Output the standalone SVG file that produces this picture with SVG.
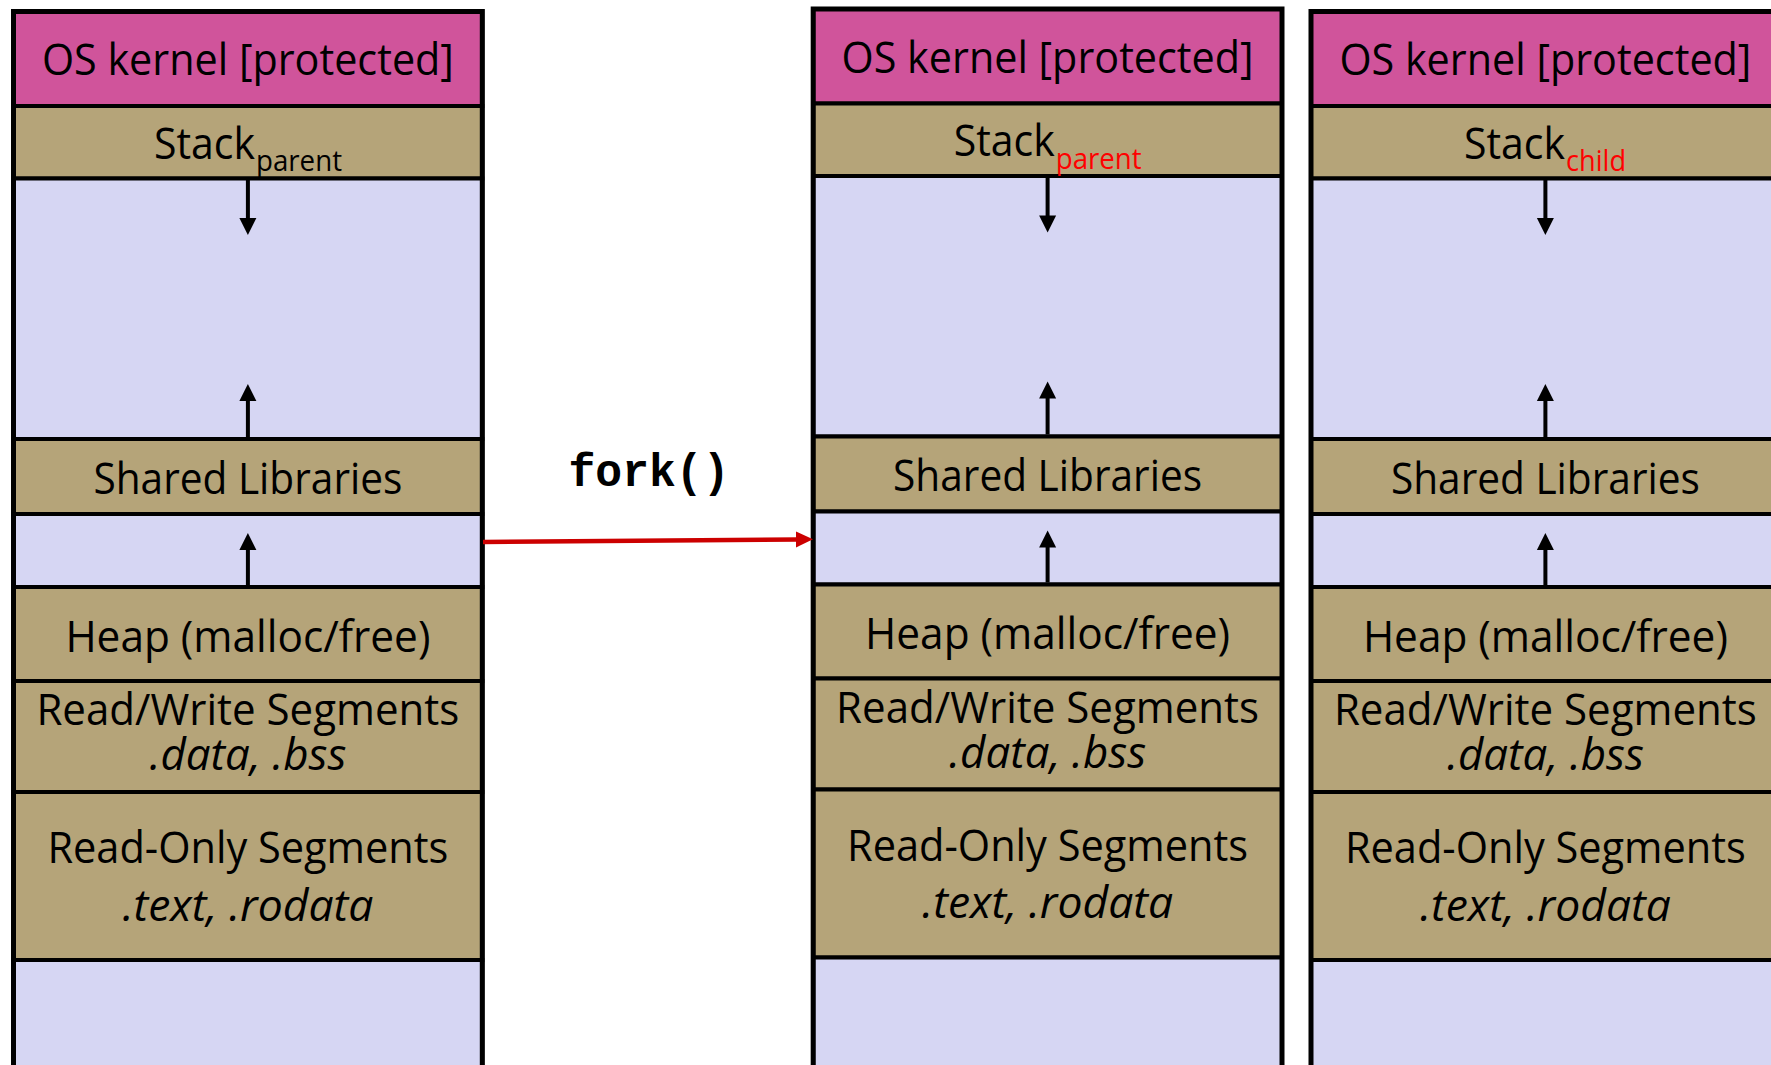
<svg xmlns="http://www.w3.org/2000/svg" width="1771" height="1065" viewBox="0 0 1771 1065">
<style>
.k{fill:#D0549B;stroke:#000;stroke-width:4}
.t{fill:#B5A479;stroke:#000;stroke-width:4}
.f{fill:#D6D6F3;stroke:#000;stroke-width:4}
.o{fill:none;stroke:#000;stroke-width:5}
.lb{font-family:"Open Sans","Liberation Sans",sans-serif;font-size:43px;fill:#000;text-anchor:middle}
.it{font-style:italic}
.sub{font-family:"Open Sans","Liberation Sans",sans-serif;font-size:29px}
.ar{stroke:#000;stroke-width:4;fill:none}
.ah{fill:#000}
.fork{font-family:"Liberation Mono","Courier New",monospace;font-weight:bold;font-size:46px;fill:#000;text-anchor:middle}
</style>
<rect x="0" y="0" width="1771" height="1065" fill="#fff"/>
<defs>
<g id="arrows">
<line class="ar" x1="247.9" y1="180" x2="247.9" y2="220"/>
<polygon class="ah" points="239.4,218 256.4,218 247.9,235"/>
<line class="ar" x1="247.9" y1="437" x2="247.9" y2="398"/>
<polygon class="ah" points="239.4,401 256.4,401 247.9,384"/>
<line class="ar" x1="247.9" y1="585" x2="247.9" y2="547"/>
<polygon class="ah" points="239.4,550 256.4,550 247.9,533"/>
</g>
<g id="segs">
<rect class="k" x="13.5" y="11.5" width="468.8" height="94.5"/>
<rect class="t" x="13.5" y="106" width="468.8" height="72.5"/>
<rect class="f" x="13.5" y="178.5" width="468.8" height="260.5"/>
<rect class="t" x="13.5" y="439" width="468.8" height="75"/>
<rect class="f" x="13.5" y="514" width="468.8" height="73"/>
<rect class="t" x="13.5" y="587" width="468.8" height="94"/>
<rect class="t" x="13.5" y="681" width="468.8" height="111"/>
<rect class="t" x="13.5" y="792" width="468.8" height="168"/>
<rect class="f" x="13.5" y="960" width="468.8" height="130"/>
<rect class="o" x="13.5" y="11.5" width="468.8" height="1080"/>
</g>
<g id="labels">
<text class="lb" x="247.9" y="75" textLength="412" lengthAdjust="spacingAndGlyphs">OS kernel [protected]</text>
<text class="lb" x="247.9" y="493.6" textLength="309" lengthAdjust="spacingAndGlyphs">Shared Libraries</text>
<text class="lb" x="247.9" y="651.7" textLength="365" lengthAdjust="spacingAndGlyphs">Heap (malloc/free)</text>
<text class="lb" x="247.9" y="725" textLength="423" lengthAdjust="spacingAndGlyphs">Read/Write Segments</text>
<text class="lb it" x="247.9" y="770" textLength="197" lengthAdjust="spacingAndGlyphs">.data, .bss</text>
<text class="lb" x="247.9" y="863" textLength="401" lengthAdjust="spacingAndGlyphs">Read-Only Segments</text>
<text class="lb it" x="247.9" y="920.5" textLength="251" lengthAdjust="spacingAndGlyphs">.text, .rodata</text>
</g>
</defs>

<g id="parent-before">
<use href="#segs"/>
<use href="#arrows"/>
<use href="#labels"/>
<text class="lb" x="154" y="158.5" style="text-anchor:start" textLength="101" lengthAdjust="spacingAndGlyphs">Stack</text>
<text class="sub" x="256" y="171" fill="#000" textLength="86" lengthAdjust="spacingAndGlyphs">parent</text>
</g>

<g id="parent-after" transform="translate(799.7,-2.5)">
<use href="#segs"/>
<use href="#arrows"/>
<use href="#labels"/>
<text class="lb" x="154" y="158.5" style="text-anchor:start" textLength="101" lengthAdjust="spacingAndGlyphs">Stack</text>
<text class="sub" x="256" y="171" fill="#FF0000" textLength="86" lengthAdjust="spacingAndGlyphs">parent</text>
</g>

<g id="child" transform="translate(1297.5,0)">
<use href="#segs"/>
<use href="#arrows"/>
<use href="#labels"/>
<text class="lb" x="166.5" y="158.5" style="text-anchor:start" textLength="101" lengthAdjust="spacingAndGlyphs">Stack</text>
<text class="sub" x="268.5" y="171" fill="#FF0000" textLength="60" lengthAdjust="spacingAndGlyphs">child</text>
</g>

<g id="connectors">
<line x1="483" y1="542" x2="798" y2="539.6" stroke="#CC0000" stroke-width="4.5"/>
<polygon points="796,531.5 813,539.3 796,547.5" fill="#CC0000"/>
<text class="fork" x="649" y="486" textLength="161" lengthAdjust="spacingAndGlyphs">fork()</text>
</g>
</svg>
